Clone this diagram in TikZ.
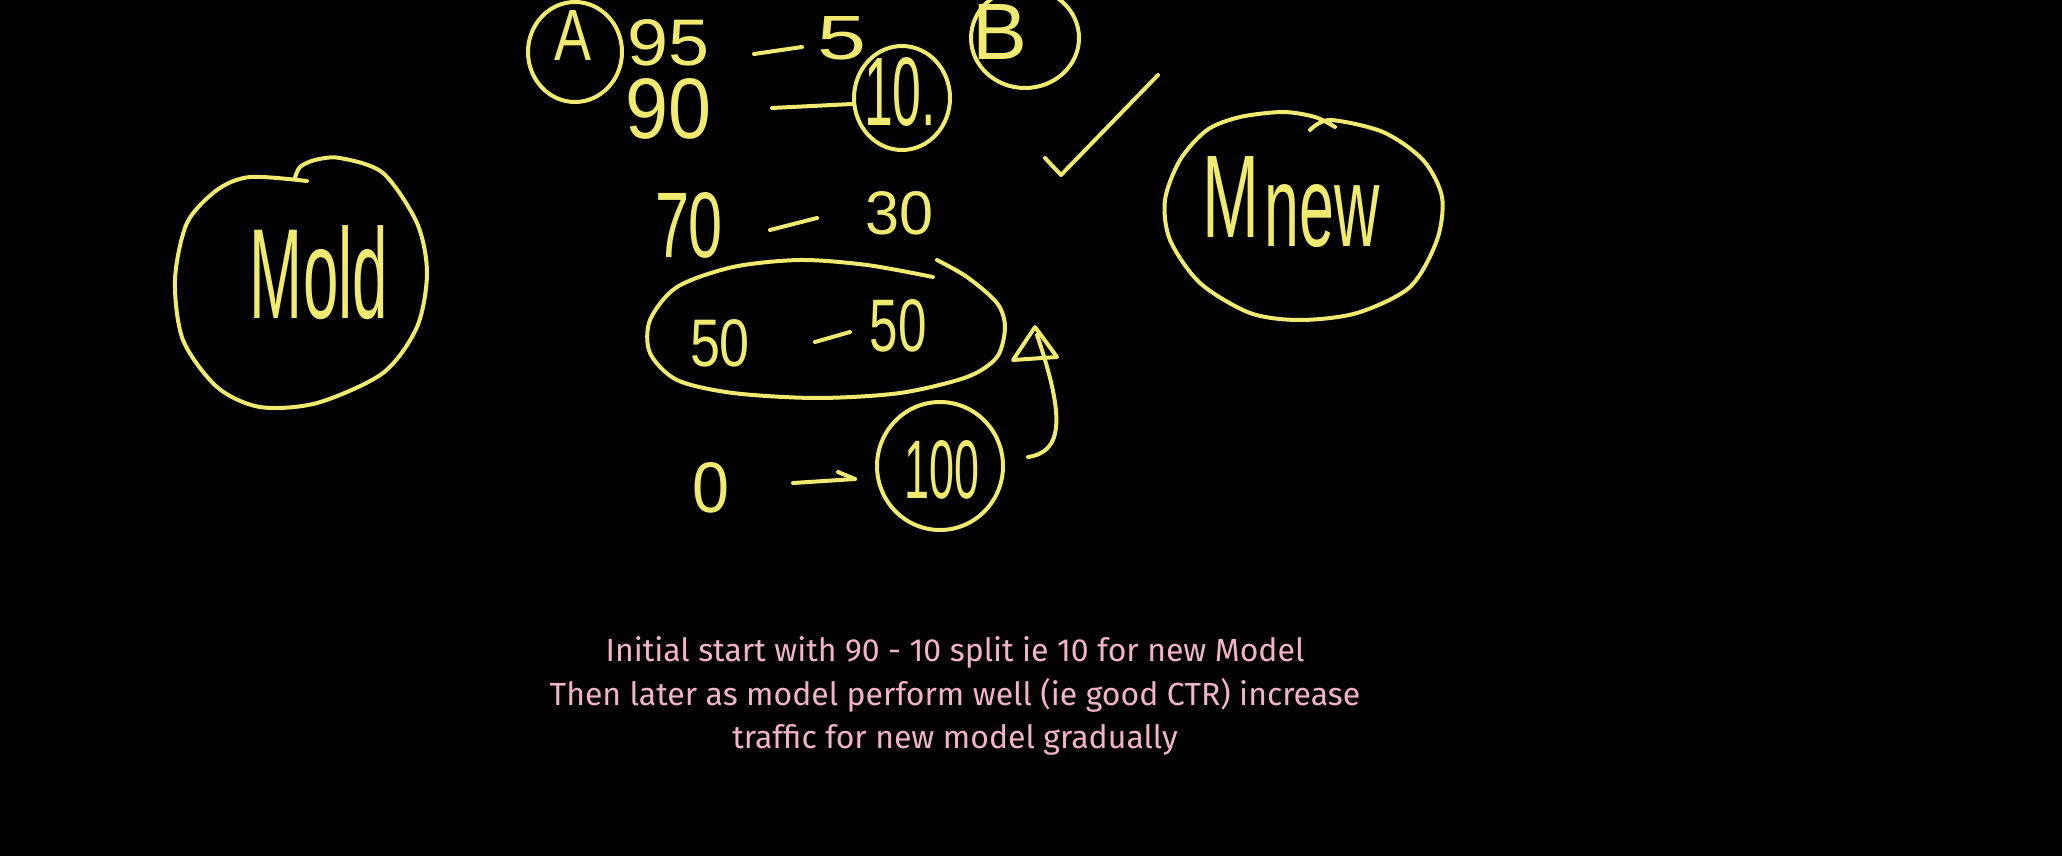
\documentclass[tikz,border=0pt]{standalone}
\usepackage{fontspec}
\usetikzlibrary{shapes.geometric}
\newfontfamily\hw{Liberation Sans}
\newfontfamily\notefont{Fira Sans}
\definecolor{penc}{RGB}{240,234,112}
\definecolor{notec}{RGB}{242,180,198}
\newdimen\pxu
\pxu=0.5pt
\newcommand{\hwt}[3]{\resizebox{#1\pxu}{#2\pxu}{\hw #3}}
\begin{document}
\begin{tikzpicture}[x=0.5pt,y=-0.5pt,
  pen/.style={draw=penc, line width=2pt, line cap=round, line join=round},
  hwnode/.style={text=penc, inner sep=0pt},
  ring/.style={draw=penc, line width=2pt, ellipse, inner sep=0pt},
  notetext/.style={text=notec, align=center, inner sep=0pt,
    font=\notefont\fontsize{16}{21.75}\selectfont}]
\fill[black] (0,0) rectangle (2062,856);
\useasboundingbox (0,0) rectangle (2062,856);
\clip (0,0) rectangle (2062,856);

% M old
\draw[pen] plot[smooth] coordinates {(307,181) (250,177) (217,190) (187,223) (175,280) (183,340) (217,387) (260,407) (317,403) (383,373) (417,327) (427,273) (417,223) (383,173) (340,158) (315,160) (300,167) (295,178)};
\node[hwnode] (mold) at (319,273) {\hwt{138}{93}{Mold}};

% M new
\draw[pen] plot[smooth] coordinates {(1310,130) (1330,120) (1383,132) (1423,160) (1442,197) (1437,240) (1410,287) (1357,313) (1300,320) (1250,313) (1200,283) (1170,240) (1165,200) (1180,160) (1207,130) (1240,117) (1283,112) (1315,117) (1335,127)};
\node[hwnode] (mnewM) at (1231,197) {\hwt{57}{81}{M}};
\node[hwnode] (mnewn) at (1322,216) {\hwt{115}{62}{new}};

% row 1
\node[ring, minimum width=94\pxu, minimum height=100\pxu] (ringA) at (575,52) {};
\node[hwnode] (lblA) at (573,35) {\hwt{37}{50}{A}};
\node[hwnode] (n95) at (669,43) {\hwt{82}{46}{95}};
\draw[pen] (754,54) -- (802,47);
\node[hwnode] (n5) at (842,38) {\hwt{49}{43}{5}};
\node[ring, minimum width=108\pxu, minimum height=100\pxu] (ringB) at (1025,38) {};
\node[hwnode] (lblB) at (1000,32) {\hwt{55}{55}{B}};

% row 2
\node[hwnode] (n90) at (669,109) {\hwt{86}{60}{90}};
\draw[pen] (772,108) -- (852,104);
\node[ring, minimum width=96\pxu, minimum height=104\pxu] (ring10) at (902,98) {};
\node[hwnode] (n10) at (900,92) {\hwt{72}{68}{10.}};

% check mark
\draw[pen] (1045,158) -- (1061,175) -- (1158,75);

% row 3
\node[hwnode] (n70) at (689,225) {\hwt{68}{65}{70}};
\draw[pen] (770,230) -- (817,218);
\node[hwnode] (n30) at (899,213) {\hwt{68}{43}{30}};

% row 4 (circled)
\draw[pen] plot[smooth] coordinates {(937,260) (967,277) (997,303) (1005,327) (997,357) (967,377) (900,393) (817,398) (733,393) (677,380) (650,353) (650,320) (677,287) (733,267) (800,260) (867,265) (933,277)};
\node[hwnode] (n50a) at (720,343) {\hwt{60}{47}{50}};
\draw[pen] (815,342) -- (850,332);
\node[hwnode] (n50b) at (898,326) {\hwt{57}{52}{50}};

% arrow up
\coordinate (arrS) at (1028,457);
\coordinate (arrE) at (1037,335);
\draw[pen] (arrS) .. controls (1062,452) and (1066,420) .. (arrE);
\draw[pen] (1035,327) -- (1013,360) -- (1057,357) -- cycle;

% row 5
\node[hwnode] (n0) at (711,488) {\hwt{37}{50}{0}};
\draw[pen] (793,483) -- (855,479);
\draw[pen] (838,472) -- (855,479);
\node[ring, minimum width=126\pxu, minimum height=128\pxu] (ring100) at (940,466) {};
\node[hwnode] (n100) at (942,470) {\hwt{75}{58}{100}};

% note
\node[notetext] (note) at (955,696) {Initial start with 90 - 10 split ie 10 for new Model\\Then later as model perform well (ie good CTR) increase\\traffic for new model gradually};
\end{tikzpicture}
\end{document}
